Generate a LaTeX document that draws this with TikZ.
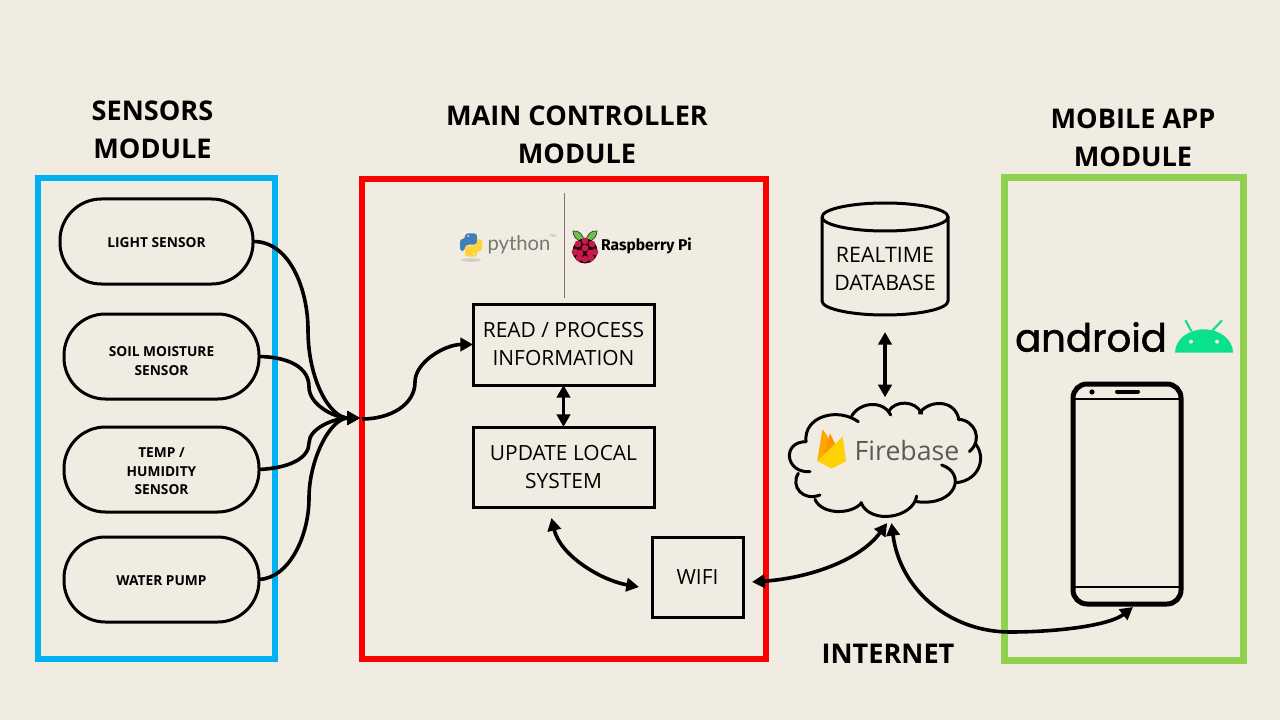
\documentclass[tikz,border=0pt]{standalone}
\usepackage{fontspec}
\setmainfont{Open Sans}
\newfontfamily\latof{Lato}
\newfontfamily\firaf{Fira Sans}
\newfontfamily\popf[RawFeature={embolden=1.3}]{Poppins}
\usetikzlibrary{arrows.meta}
\definecolor{bgc}{HTML}{F0ECE2}
\definecolor{sblue}{HTML}{00B0F0}
\definecolor{sgreen}{HTML}{92D050}
\definecolor{adroid}{HTML}{0BE08A}
\definecolor{berry}{HTML}{C51A4A}
\definecolor{leafc}{HTML}{6CC04A}
\definecolor{pyblue}{HTML}{3F7FB5}
\definecolor{pyyellow}{HTML}{FFD43B}
\tikzset{
  x=0.75pt,y=-0.75pt,
  module/.style={draw,line width=4.5pt,fill=none},
  title/.style={font=\bfseries\fontsize{20.35}{28.5}\selectfont,align=center,text=black,inner sep=0},
  sensor/.style={draw=black,line width=2.25pt,rounded corners=31pt,minimum height=63.75pt,outer sep=0},
  sensortext/.style={align=center,font=\bfseries\fontsize{10.3}{13.8}\selectfont,inner sep=0,outer sep=0},
  stepbox/.style={draw=black,line width=2.25pt,outer sep=0,align=center,font=\fontsize{15.7}{21}\selectfont,inner sep=0},
  ghost/.style={outer sep=0,inner sep=0},
  conn/.style={line width=2.7pt,draw=black},
  one/.style={conn,-{Triangle[length=9.5pt,width=10pt]}},
  two/.style={conn,{Triangle[length=9.5pt,width=10pt]}-{Triangle[length=9.5pt,width=10pt]}},
  cloudline/.style={line width=2.25pt,line cap=round},
}
\begin{document}
\begin{tikzpicture}
\path[fill=bgc] (0,0) rectangle (1280,720);
% modules
\draw[module,draw=sblue] (38,178) rectangle (275,659);
\draw[module,draw=red] (361.5,179) rectangle (766,659);
\draw[module,draw=sgreen,line width=5.25pt] (1004.5,177.5) rectangle (1243,660);
% titles
\node[title] (t1) at (152.5,130) {SENSORS\\MODULE};
\node[title] (t2) at (577,134.6) {MAIN CONTROLLER\\MODULE};
\node[title] (t3) at (1133,138) {MOBILE APP\\MODULE};
\node[title] (t4) at (888,654) {INTERNET};
% sensors
\node[sensor,minimum width=144.75pt] (light) at (156.5,241.5) {};
\node[sensor,minimum width=146.25pt] (soil) at (161.5,356.5) {};
\node[sensor,minimum width=146.25pt] (temp) at (161.5,469.5) {};
\node[sensor,minimum width=146.25pt] (pump) at (161.5,579.5) {};
\node[sensortext] (lighttext) at ([shift={(0,1.5)}]light.center) {LIGHT SENSOR};
\node[sensortext] (soiltext) at ([shift={(0,4.5)}]soil.center) {SOIL MOISTURE\\SENSOR};
\node[sensortext] (temptext) at ([shift={(0,2)}]temp.center) {TEMP /\\HUMIDITY\\SENSOR};
\node[sensortext] (pumptext) at ([shift={(0,1)}]pump.center) {WATER PUMP};
\coordinate (hub) at (360,418);
% controller boxes
\node[stepbox,minimum width=135.75pt,minimum height=60.75pt] (read) at (563.5,344.5) {READ / PROCESS\\INFORMATION};
\node[stepbox,minimum width=135.75pt,minimum height=60pt] (update) at (563.5,467) {UPDATE LOCAL\\SYSTEM};
\node[stepbox,minimum width=68.25pt,minimum height=60pt] (wifi) at (697.5,577) {WIFI};
% logos python / raspberry
\draw[draw=black!50!bgc,line width=0.9pt] (564.5,193) -- (564.5,298);
\fill[black!12!bgc] (471,260) ellipse (10 and 1.8);
\begin{scope}[shift={(460,233)}]
  \fill[rounded corners=2pt,color=pyblue] (5,6) -- (5,0.5) -- (17,0.5) -- (17,11.5) -- (7,11.5) -- (4.5,14) -- (4.5,18) -- (0,18) -- (0,6) -- cycle;
  \fill[rounded corners=2pt,color=pyyellow] (17,18) -- (17,23.5) -- (5,23.5) -- (5,12.5) -- (15,12.5) -- (17.5,10) -- (17.5,6) -- (22,6) -- (22,18) -- cycle;
  \fill[bgc] (8,3) circle (1) (14,21) circle (1);
\end{scope}
\node[ghost,text=black!50!bgc,font=\latof\fontsize{15.2}{18}\selectfont] (py) at (519,245) {python};
\node[ghost,text=black!35!bgc,font=\latof\fontsize{3}{3}\selectfont] (tm) at (553,236) {TM};
\begin{scope}[shift={(585,249)}]
  \fill[leafc,draw=black!80,line width=0.5pt] (-1,-7) .. controls (-10,-8) and (-12,-14) .. (-12,-18) .. controls (-6,-19) and (-1,-14) .. (-1,-7) -- cycle;
  \fill[leafc,draw=black!80,line width=0.5pt] (1,-7) .. controls (10,-8) and (12,-14) .. (12,-18) .. controls (6,-19) and (1,-14) .. (1,-7) -- cycle;
  \fill[black!80!berry] (0,2) circle (12.5);
  \foreach \a/\b in {0/-8,-7/-5,7/-5,-10/3,10/3,-5/4,5/4,0/-1,0/10,-6/9,6/9}{
    \fill[berry] (\a,\b) circle (3.4);
  }
\end{scope}
\node[ghost,font=\firaf\bfseries\fontsize{11.7}{13}\selectfont] (rpi) at (646.5,246) {Raspberry Pi};
% database
\node[ghost,minimum width=94.5pt,minimum height=84pt] (db) at (885,259) {};
\draw[line width=2.25pt] (db.north west) ++(0,14) arc[start angle=180,end angle=540,x radius=63,y radius=14];
\draw[line width=2.25pt] (822,217) -- (822,301) arc[start angle=180,end angle=0,x radius=63,y radius=14] -- (948,217);
\node[ghost,align=center,font=\fontsize{16}{21.5}\selectfont] (dbtext) at (885,269) {REALTIME\\DATABASE};
% cloud
\node[ghost,minimum width=145.5pt,minimum height=92.25pt] (cloud) at (885,461.5) {};
\begin{scope}[shift={(780,390)},x=0.25pt,y=-0.25pt,cloudline]
  \draw (78,155) .. controls (70,80) and (170,50) .. (235,95);
  \draw (215,78) .. controls (240,35) and (310,30) .. (332,75);
  \draw (325,65) .. controls (345,30) and (405,30) .. (425,70);
  \draw (418,70) .. controls (445,30) and (525,25) .. (537,90);
  \draw (535,88) .. controls (585,90) and (610,150) .. (568,185);
  \draw (585,160) .. controls (620,200) and (600,270) .. (530,278);
  \draw (485,225) .. controls (560,250) and (530,350) .. (410,335);
  \draw (410,318) .. controls (400,385) and (270,405) .. (243,338);
  \draw (245,338) .. controls (215,375) and (125,375) .. (105,328);
  \draw (120,315) .. controls (70,335) and (30,290) .. (55,250);
  \draw (90,245) .. controls (15,250) and (5,155) .. (78,155);
  % firebase flame
  \fill[color=orange!70!yellow] (112,213) -- (127,118) .. controls (135,125) and (150,150) .. (160,172) -- (130,215) -- cycle;
  \fill[color=orange!85!yellow] (130,200) -- (150,130) -- (172,175) -- (150,225) -- cycle;
  \fill[color=yellow!70!orange] (112,213) -- (188,140) -- (198,213) -- (155,236) -- cycle;
\end{scope}
\node[ghost,text=black!62!bgc,font=\fontsize{20}{24}\selectfont] (fb) at (907,450) {Firebase};
% android
\node[ghost,font=\popf\fontsize{29}{32}\selectfont] (andr) at (1091,337) {android};
\begin{scope}[shift={(1005,310)},x=0.25pt,y=-0.25pt]
  \fill[adroid] (510,128) arc[start angle=180,end angle=360,x radius=87,y radius=70] -- cycle;
  \draw[adroid,line width=1.6pt,line cap=round] (558,62) -- (542,32) (622,62) -- (650,32);
  \fill[bgc] (558,95) circle (6) (636,95) circle (6);
\end{scope}
% phone
\node[ghost,draw=black,line width=3.75pt,rounded corners=10.5pt,minimum width=81pt,minimum height=165pt] (phone) at (1127,494) {};
\draw[line width=1.5pt] (1073,398.5) -- (1181,398.5) (1073,587) -- (1181,587);
\fill (1092,392) circle (2.6);
\draw[line width=3pt,line cap=round] (1117,391.5) -- (1138,391.5);
% connectors
\draw[one] (light.east) .. controls (290,241) and (308,290) .. (308,330) .. controls (308,380) and (330,418) .. (hub);
\draw[one] (soil.east) .. controls (290,357) and (309,368) .. (309,387) .. controls (309,405) and (335,418) .. (hub);
\draw[one] (temp.east) .. controls (290,468) and (309,458) .. (309,443) .. controls (309,428) and (335,418) .. (hub);
\draw[one] (pump.east) .. controls (290,578) and (309,535) .. (309,498) .. controls (309,460) and (330,418) .. (hub);
\draw[one] (hub) ++(2,1) .. controls (390,419) and (415,405) .. (415,382) .. controls (415,362) and (445,344.5) .. (read.west);
\draw[two] (read.south) -- (update.north);
\draw[two] ([shift={(-12,11)}]update.south) .. controls (560,555) and (600,580) .. ([shift={(-13,10)}]wifi.west);
\draw[two] ([shift={(9,5)}]wifi.east) .. controls (810,578) and (860,560) .. (cloud.-88);
\draw[two] (cloud.-84) .. controls (900,590) and (950,632) .. (1010,632) .. controls (1060,632) and (1110,625) .. ([shift={(6,3)}]phone.south);
\draw[two,shorten <=12.75pt,shorten >=2pt] (db.south) -- (cloud.north);
\end{tikzpicture}
\end{document}
